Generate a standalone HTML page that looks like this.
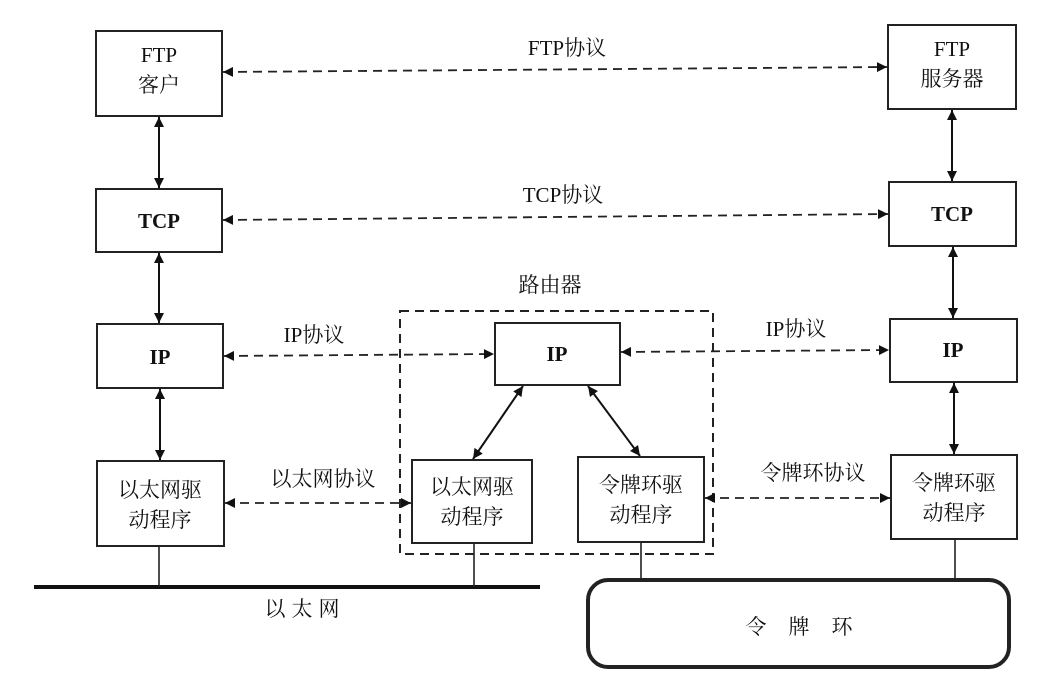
<!DOCTYPE html>
<html><head><meta charset="utf-8"><style>
html,body{margin:0;padding:0;background:#fff;}
svg{display:block;}
text{font-family:"Liberation Serif","Noto Serif CJK SC",serif;font-size:21px;fill:#111;}
.b{font-weight:bold;}
</style></head><body>
<svg width="1055" height="682" viewBox="0 0 1055 682" xmlns="http://www.w3.org/2000/svg">
<defs>
<marker id="a" viewBox="0 0 10 10" refX="10" refY="5" markerWidth="14" markerHeight="10" markerUnits="userSpaceOnUse" orient="auto-start-reverse"><path d="M0,0 L10,5 L0,10 z" fill="#111"/></marker>
</defs>
<g fill="none" stroke="#222" stroke-width="2">
<rect x="96" y="31" width="126" height="85"/>
<rect x="96" y="189" width="126" height="63"/>
<rect x="97" y="324" width="126" height="64"/>
<rect x="97" y="461" width="127" height="85"/>
<rect x="495" y="323" width="125" height="62"/>
<rect x="412" y="460" width="120" height="83"/>
<rect x="578" y="457" width="126" height="85"/>
<rect x="888" y="25" width="128" height="84"/>
<rect x="889" y="182" width="127" height="64"/>
<rect x="890" y="319" width="127" height="63"/>
<rect x="891" y="455" width="126" height="84"/>
<rect x="400" y="311" width="313" height="243" stroke-dasharray="9,6"/>
<rect x="588" y="580" width="421" height="87" rx="20" stroke-width="4"/>
</g>
<line x1="34" y1="587" x2="540" y2="587" stroke="#111" stroke-width="4"/>
<g stroke="#222" stroke-width="1.6">
<line x1="159" y1="546" x2="159" y2="587"/>
<line x1="474" y1="543" x2="474" y2="587"/>
<line x1="641" y1="542" x2="641" y2="580"/>
<line x1="955" y1="539" x2="955" y2="580"/>
</g>
<g stroke="#111" stroke-width="2" marker-start="url(#a)" marker-end="url(#a)">
<line x1="159" y1="117" x2="159" y2="188"/>
<line x1="159" y1="253" x2="159" y2="323"/>
<line x1="160" y1="389" x2="160" y2="460"/>
<line x1="952" y1="110" x2="952" y2="181"/>
<line x1="953" y1="247" x2="953" y2="318"/>
<line x1="954" y1="383" x2="954" y2="454"/>
<line x1="523" y1="386" x2="473" y2="459"/>
<line x1="588" y1="386" x2="640" y2="456"/>
</g>
<g stroke="#222" stroke-width="1.8" stroke-dasharray="9,6" marker-start="url(#a)" marker-end="url(#a)" fill="none">
<line x1="223" y1="72" x2="887" y2="67"/>
<line x1="223" y1="220" x2="888" y2="214"/>
<line x1="224" y1="356" x2="494" y2="354"/>
<line x1="621" y1="352" x2="889" y2="350"/>
<line x1="225" y1="503" x2="411" y2="503"/>
<line x1="705" y1="498" x2="890" y2="498"/>
</g>
<text x="159" y="62" text-anchor="middle">FTP</text>
<text x="159" y="92" text-anchor="middle">客户</text>
<text x="159" y="228" text-anchor="middle" class="b">TCP</text>
<text x="160" y="364" text-anchor="middle" class="b">IP</text>
<text x="160" y="497" text-anchor="middle">以太网驱</text>
<text x="160" y="527" text-anchor="middle">动程序</text>
<text x="557" y="361" text-anchor="middle" class="b">IP</text>
<text x="472" y="494" text-anchor="middle">以太网驱</text>
<text x="472" y="524" text-anchor="middle">动程序</text>
<text x="641" y="492" text-anchor="middle">令牌环驱</text>
<text x="641" y="522" text-anchor="middle">动程序</text>
<text x="952" y="56" text-anchor="middle">FTP</text>
<text x="952" y="86" text-anchor="middle">服务器</text>
<text x="952" y="221" text-anchor="middle" class="b">TCP</text>
<text x="953" y="357" text-anchor="middle" class="b">IP</text>
<text x="954" y="490" text-anchor="middle">令牌环驱</text>
<text x="954" y="520" text-anchor="middle">动程序</text>
<text x="567" y="55" text-anchor="middle">FTP协议</text>
<text x="563" y="202" text-anchor="middle">TCP协议</text>
<text x="314" y="342" text-anchor="middle">IP协议</text>
<text x="796" y="336" text-anchor="middle">IP协议</text>
<text x="323" y="486" text-anchor="middle">以太网协议</text>
<text x="813" y="480" text-anchor="middle">令牌环协议</text>
<text x="550" y="292" text-anchor="middle">路由器</text>
<text x="305" y="616" text-anchor="middle" letter-spacing="6">以太网</text>
<text x="810" y="634" text-anchor="middle" letter-spacing="22">令牌环</text>
</svg>
</body></html>
